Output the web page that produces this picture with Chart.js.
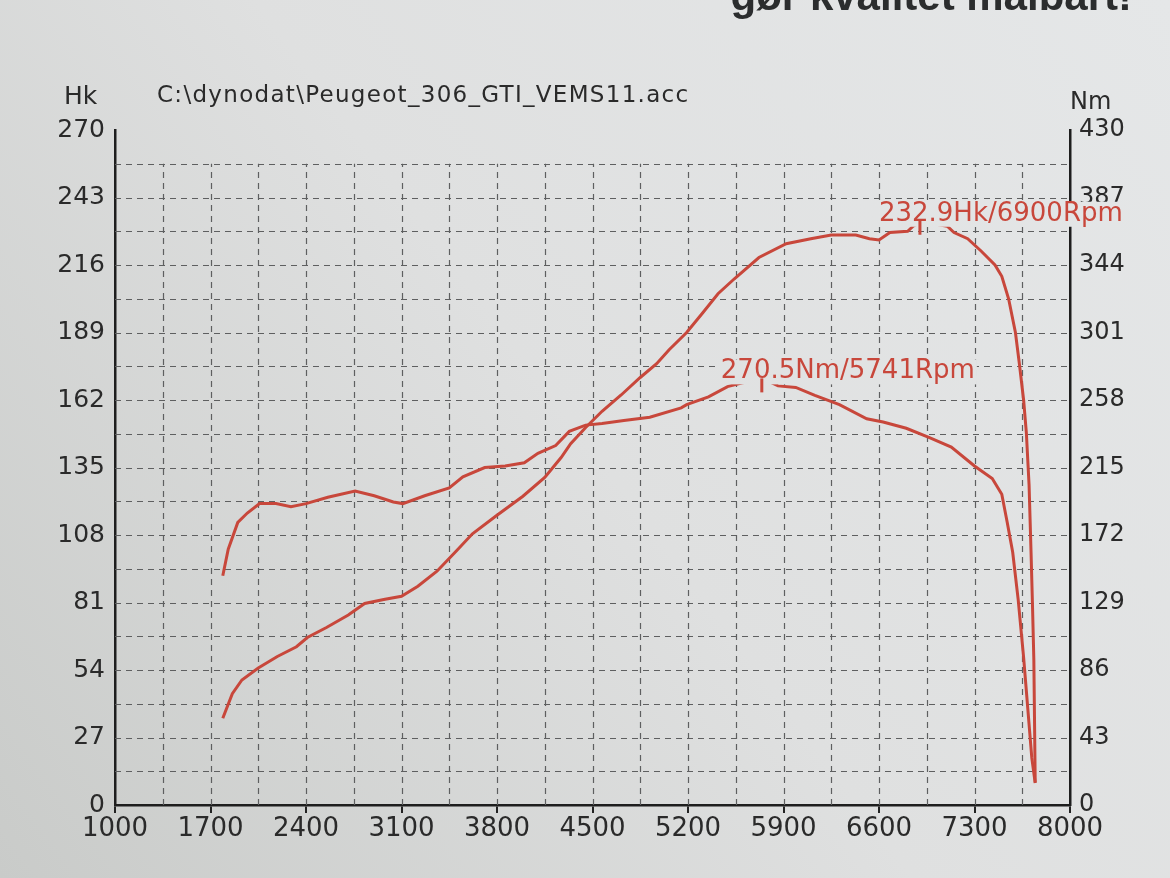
<!DOCTYPE html>
<html><head><meta charset="utf-8">
<script src="https://cdn.jsdelivr.net/npm/chart.js@4.4.1/dist/chart.umd.min.js"></script>
<style>
html,body{margin:0;padding:0;width:1170px;height:878px;overflow:hidden;background:#dadbdb;}
canvas{display:block;}
</style></head><body>
<canvas id="c" width="1170" height="878"></canvas>
<script>
// ---- tick labels ----
const rpmTicks = [1000,1700,2400,3100,3800,4500,5200,5900,6600,7300,8000];
const hkTicks  = [0,27,54,81,108,135,162,189,216,243,270];
const nmTicks  = [0,43,86,129,172,215,258,301,344,387,430];

// ---- power curve (Hk) ----
const powerRpm = [1790,1860,1930,2050,2190,2330,2410,2550,2710,2830,2970,3100,3220,3360,3500,3620,3790,3990,4150,4270,4340,4450,4570,4710,4850,4970,5060,5190,5310,5420,5540,5720,5920,6100,6250,6430,6530,6600,6680,6810,6850,6900,7000,7100,7150,7250,7350,7450,7500,7550,7600,7630,7660,7680,7700,7715,7725,7735,7745];
const powerHk  = [34.7,44.5,50,54.8,59.4,63.3,67,71,76,80.6,82.2,83.5,87.5,93.5,101.5,108.5,115.5,123.5,131,139,144.5,151,157.5,164,171,176.5,182,189,197,204.5,210.5,219,224.5,226.5,228,228,226.5,226,229,229.5,231.5,232.9,232.5,231.5,229,226.5,221.5,216,211.5,202.5,189,176,162,149,128,100,80,58,9];

// ---- torque curve (Nm) ----
const torqueRpm = [1790,1830,1900,1970,2060,2180,2290,2400,2560,2760,2900,3040,3110,3270,3450,3550,3710,3860,4000,4100,4230,4330,4450,4570,4730,4920,5150,5190,5350,5490,5600,5741,5800,5860,5990,6130,6310,6510,6630,6800,6970,7130,7300,7430,7500,7540,7580,7620,7660,7690,7720,7745];
const torqueNm  = [146,163,180,186,192,192,190,192,196,200,197,193,192,197,202,209,215,216,218,224,229,238,242,243,245,247,253,255,260,266.5,269,270.5,269.5,267,266,261,255,246,244,240,234,228,216,208,198,180,161,131,94,62,30,14];

// ---- texts ----
const fileTitle = 'C:\\dynodat\\Peugeot_306_GTI_VEMS11.acc';
const leftUnit = 'Hk';
const rightUnit = 'Nm';
const topSlogan = 'gør kvalitet målbart!';
const peakPower  = {rpm:6900, value:232.9, label:'232.9Hk/6900Rpm', axis:'y'};
const peakTorque = {rpm:5741, value:270.5, label:'270.5Nm/5741Rpm', axis:'y1'};

const RED = '#c8473b';
const INK = '#2a2a2a';
const FONT = '"DejaVu Sans", Verdana, sans-serif';

function bgGrad(ctx){
  const g = ctx.createLinearGradient(1170, 0, 0, 878);
  g.addColorStop(0, '#e5e7e8');
  g.addColorStop(0.5, '#dfe0e0');
  g.addColorStop(1, '#c9cbc9');
  return g;
}

const bgPlugin = {
  id:'bg',
  beforeDraw(chart){
    const ctx = chart.ctx;
    ctx.save();
    ctx.fillStyle = bgGrad(ctx);
    ctx.fillRect(0,0,chart.width,chart.height);
    ctx.restore();
  }
};

const gridPlugin = {
  id:'dashgrid',
  beforeDatasetsDraw(chart){
    const {ctx, scales:{x,y}} = chart;
    const yTop = y.getPixelForValue((hkTicks[hkTicks.length-1]+hkTicks[hkTicks.length-2])/2);
    const yBot = y.getPixelForValue(hkTicks[0]);
    const xL = x.getPixelForValue(rpmTicks[0]);
    const xR = x.getPixelForValue(rpmTicks[rpmTicks.length-1]);
    ctx.save();
    ctx.strokeStyle = '#5e5f60';
    ctx.lineWidth = 1.2;
    ctx.setLineDash([6,5]);
    const hv = [];
    for (let i=0;i<hkTicks.length-1;i++){ hv.push(hkTicks[i]); hv.push((hkTicks[i]+hkTicks[i+1])/2); }
    hv.forEach(v=>{
      if (v<=hkTicks[0]) return;
      const py = Math.round(y.getPixelForValue(v))+0.5;
      ctx.beginPath(); ctx.moveTo(xL,py); ctx.lineTo(xR,py); ctx.stroke();
    });
    const vv = [];
    for (let i=0;i<rpmTicks.length-1;i++){ vv.push(rpmTicks[i]); vv.push((rpmTicks[i]+rpmTicks[i+1])/2); }
    vv.forEach(v=>{
      if (v<=rpmTicks[0]) return;
      const px = Math.round(x.getPixelForValue(v))+0.5;
      ctx.beginPath(); ctx.moveTo(px,yBot); ctx.lineTo(px,yTop); ctx.stroke();
    });
    ctx.restore();
  }
};

function drawPeak(chart, p){
  const ctx = chart.ctx;
  const xs = chart.scales.x, ys = chart.scales[p.axis];
  const px = xs.getPixelForValue(p.rpm), py = ys.getPixelForValue(p.value);
  ctx.save();
  ctx.font = '26px ' + FONT;
  const w = ctx.measureText(p.label).width;
  const tx = px - 41, ty = py - 9;
  ctx.fillStyle = bgGrad(ctx);
  ctx.fillRect(tx - 2, ty - 12, w + 4, (py + 4) - (ty - 12));
  ctx.fillStyle = RED;
  ctx.textBaseline = 'middle';
  ctx.textAlign = 'left';
  ctx.fillText(p.label, tx, ty);
  ctx.strokeStyle = RED;
  ctx.lineWidth = 3;
  ctx.beginPath(); ctx.moveTo(px, py - 2); ctx.lineTo(px, py + 12); ctx.stroke();
  ctx.restore();
}

const textPlugin = {
  id:'texts',
  afterDraw(chart){
    const ctx = chart.ctx;
    ctx.save();
    ctx.fillStyle = INK;
    ctx.textBaseline = 'middle';
    ctx.font = '23px ' + FONT;
    ctx.textAlign = 'left';
    if ('letterSpacing' in ctx) ctx.letterSpacing = '1.3px';
    ctx.fillText(fileTitle, 157, 96);
    if ('letterSpacing' in ctx) ctx.letterSpacing = '0px';
    ctx.font = '25px ' + FONT;
    ctx.fillText(leftUnit, 64, 97);
    ctx.font = '24px ' + FONT;
    ctx.fillText(rightUnit, 1070, 103);
    ctx.font = 'bold 42px "Liberation Sans", Arial, sans-serif';
    ctx.textAlign = 'right';
    ctx.textBaseline = 'alphabetic';
    ctx.fillStyle = '#2b2d2e';
    ctx.fillText(topSlogan, 1132, 10);
    ctx.restore();
    drawPeak(chart, peakTorque);
    drawPeak(chart, peakPower);
  }
};

const pts = (xs, ys) => xs.map((v,i)=>({x:v, y:ys[i]}));
const plain = v => String(v);

new Chart(document.getElementById('c'), {
  type:'line',
  data:{
    datasets:[
      {label:'Hk', data:pts(powerRpm,powerHk), yAxisID:'y', borderColor:RED, borderWidth:3, pointRadius:0, tension:0, fill:false},
      {label:'Nm', data:pts(torqueRpm,torqueNm), yAxisID:'y1', borderColor:RED, borderWidth:3, pointRadius:0, tension:0, fill:false}
    ]
  },
  options:{
    responsive:false,
    animation:false,
    devicePixelRatio:1,
    layout:{padding:{top:130,bottom:20,left:0,right:0}},
    plugins:{legend:{display:false}, tooltip:{enabled:false}},
    scales:{
      x:{
        type:'linear', min:rpmTicks[0], max:rpmTicks[rpmTicks.length-1],
        afterBuildTicks:s=>{ s.ticks = rpmTicks.map(v=>({value:v})); },
        afterFit:s=>{ s.height = 53; },
        ticks:{color:INK, font:{family:FONT, size:26}, padding:1, maxRotation:0, autoSkip:false, callback:plain},
        grid:{display:true, drawOnChartArea:false, drawTicks:true, tickLength:8, color:'#222', lineWidth:2},
        border:{display:true, color:'#1e1e1e', width:2.5}
      },
      y:{
        type:'linear', position:'left', min:hkTicks[0], max:hkTicks[hkTicks.length-1],
        afterBuildTicks:s=>{ s.ticks = hkTicks.map(v=>({value:v})); },
        afterFit:s=>{ s.width = 115; },
        ticks:{color:INK, font:{family:FONT, size:25}, padding:10, callback:plain},
        grid:{display:false, drawTicks:false},
        border:{display:true, color:'#1e1e1e', width:2.5}
      },
      y1:{
        type:'linear', position:'right', min:nmTicks[0], max:nmTicks[nmTicks.length-1],
        afterBuildTicks:s=>{ s.ticks = nmTicks.map(v=>({value:v})); },
        afterFit:s=>{ s.width = 100; },
        ticks:{color:INK, font:{family:FONT, size:24}, padding:9, callback:plain},
        grid:{display:false, drawTicks:false},
        border:{display:true, color:'#1e1e1e', width:2.5}
      }
    }
  },
  plugins:[bgPlugin, gridPlugin, textPlugin]
});
</script>
</body></html>
